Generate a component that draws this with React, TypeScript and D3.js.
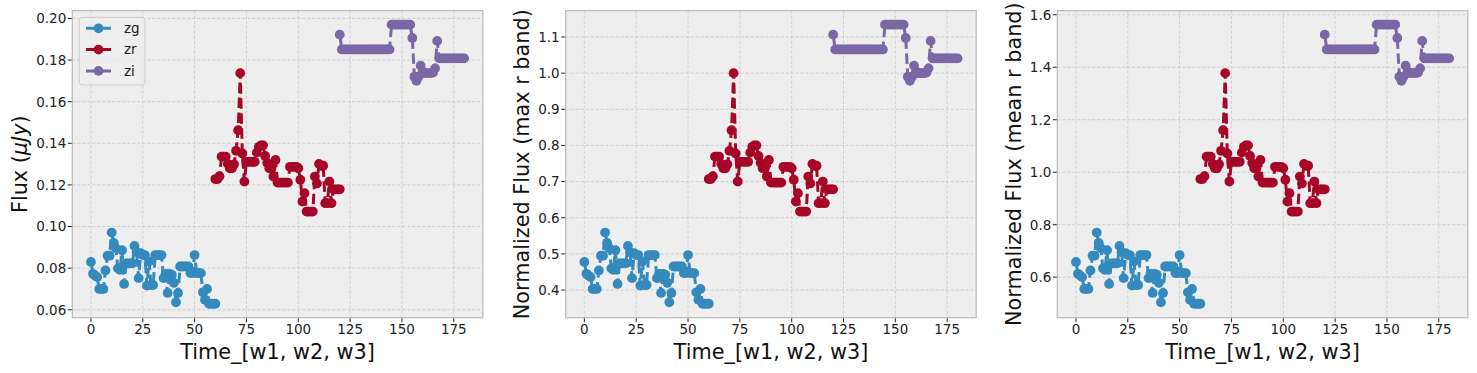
import React, { useEffect, useRef } from "react";
import * as d3 from "d3";

// flux per band (µJy), one value per time step
const zg = [
  0.0830, 0.0773, 0.0764, 0.0757, 0.0700, 0.0700, 0.0700, 0.0789, 0.0860, 0.0860,
  0.0971, 0.0921, 0.0896, 0.0799, 0.0792, 0.0886, 0.0724, 0.0823, 0.0823, 0.0823,
  0.0823, 0.0907, 0.0877, 0.0752, 0.0872, 0.0863, 0.0863, 0.0716, 0.0832, 0.0719,
  0.0719, 0.0863, 0.0863, 0.0863, 0.0863, 0.0752, 0.0773, 0.0681, 0.0773, 0.0768,
  0.0730, 0.0636, 0.0681, 0.0808, 0.0808, 0.0808, 0.0808, 0.0808, 0.0776, 0.0776,
  0.0863, 0.0776, 0.0776, 0.0776, 0.0684, 0.0648, 0.0700, 0.0629, 0.0629, 0.0629,
  0.0629,
];
const zr = [
  0.1228, 0.1228, 0.1242, 0.1336, 0.1336, 0.1336, 0.1301, 0.1280, 0.1280, 0.1299,
  0.1364, 0.1463, 0.1737, 0.1351, 0.1216, 0.1311, 0.1311, 0.1311, 0.1311, 0.1311,
  0.1355, 0.1383, 0.1390, 0.1390, 0.1339, 0.1306, 0.1280, 0.1280, 0.1240, 0.1320,
  0.1211, 0.1211, 0.1211, 0.1211, 0.1211, 0.1211, 0.1287, 0.1287, 0.1287, 0.1287,
  0.1280, 0.1225, 0.1120, 0.1160, 0.1072, 0.1072, 0.1072, 0.1072, 0.1240, 0.1207,
  0.1301, 0.1292, 0.1292, 0.1112, 0.1112, 0.1216, 0.1112, 0.1179, 0.1179, 0.1179,
  0.1179,
];
const zi = [
  0.1922, 0.1851, 0.1851, 0.1851, 0.1851, 0.1851, 0.1851, 0.1851, 0.1851, 0.1851,
  0.1851, 0.1851, 0.1851, 0.1851, 0.1851, 0.1851, 0.1851, 0.1851, 0.1851, 0.1851,
  0.1851, 0.1851, 0.1851, 0.1851, 0.1851, 0.1970, 0.1970, 0.1970, 0.1970, 0.1970,
  0.1970, 0.1970, 0.1970, 0.1970, 0.1970, 0.1906, 0.1720, 0.1700, 0.1720, 0.1773,
  0.1745, 0.1737, 0.1737, 0.1737, 0.1737, 0.1740, 0.1760, 0.1892, 0.1808, 0.1808,
  0.1808, 0.1808, 0.1808, 0.1808, 0.1808, 0.1808, 0.1808, 0.1808, 0.1808, 0.1808,
  0.1808,
];

const bandNames = ["zg", "zr", "zi"];
const bandStart = [0, 60, 120];
const bandColors = ["#348ABD", "#A60628", "#7A68A6"];

const timeTicks = [0, 25, 50, 75, 100, 125, 150, 175];
const fluxTicks = [0.06, 0.08, 0.1, 0.12, 0.14, 0.16, 0.18, 0.2];
const maxTicks = [0.4, 0.5, 0.6, 0.7, 0.8, 0.9, 1.0, 1.1];
const meanTicks = [0.6, 0.8, 1.0, 1.2, 1.4, 1.6];
const xLabel = "Time_[w1, w2, w3]";

const W = 1477;
const H = 373;
const panelLeft = [72.3, 565.7, 1057.3];
const panelWidth = 410.5;
const top = 10.7;
const bottom = 317.7;
const font = "DejaVu Sans, sans-serif";
const markerR = 4.9;
const lineW = 3;
const dash = "10.5,4.5";

export default function App() {
  const ref = useRef<SVGSVGElement>(null);

  useEffect(() => {
    const svg = d3.select(ref.current);
    svg.selectAll("*").remove();

    const maxR = d3.max(zr) as number;
    const meanR = d3.mean(zr) as number;

    const panels = [
      { scale: 1, ticks: fluxTicks, fmt: d3.format(".2f"), labelX: 26.5, label: null },
      { scale: 1 / maxR, ticks: maxTicks, fmt: d3.format(".1f"), labelX: 529, label: "Normalized Flux (max r band)" },
      { scale: 1 / meanR, ticks: meanTicks, fmt: d3.format(".1f"), labelX: 1020.5, label: "Normalized Flux (mean r band)" },
    ];

    const tMax = bandStart[2] + zi.length - 1;
    const tPad = tMax * 0.05;

    panels.forEach((p, k) => {
      const left = panelLeft[k];
      const right = left + panelWidth;
      const series = [zg, zr, zi].map((vals, b) =>
        vals.map((v, i) => ({ t: bandStart[b] + i, v: v * p.scale }))
      );
      const [lo, hi] = d3.extent(series.flat(), (d) => d.v) as [number, number];
      const pad = (hi - lo) * 0.05;

      const x = d3.scaleLinear().domain([-tPad, tMax + tPad]).range([left, right]);
      const y = d3.scaleLinear().domain([lo - pad, hi + pad]).range([bottom, top]);

      const g = svg.append("g");
      g.append("rect")
        .attr("x", left).attr("y", top)
        .attr("width", panelWidth).attr("height", bottom - top)
        .attr("fill", "#eeeeee");

      // grid
      g.selectAll(".gx").data(timeTicks).enter().append("line")
        .attr("x1", (d) => x(d)).attr("x2", (d) => x(d))
        .attr("y1", top).attr("y2", bottom)
        .attr("stroke", "#b8b8b8").attr("stroke-width", 0.6).attr("stroke-dasharray", "3,2");
      g.selectAll(".gy").data(p.ticks).enter().append("line")
        .attr("x1", left).attr("x2", right)
        .attr("y1", (d) => y(d)).attr("y2", (d) => y(d))
        .attr("stroke", "#b8b8b8").attr("stroke-width", 0.6).attr("stroke-dasharray", "3,2");

      // ticks + labels
      g.selectAll(".tx").data(timeTicks).enter().append("line")
        .attr("x1", (d) => x(d)).attr("x2", (d) => x(d))
        .attr("y1", bottom).attr("y2", bottom + 4.5)
        .attr("stroke", "#222").attr("stroke-width", 1);
      g.selectAll(".lx").data(timeTicks).enter().append("text")
        .attr("x", (d) => x(d)).attr("y", 333.5)
        .attr("text-anchor", "middle")
        .attr("font-family", font).attr("font-size", 13.5).attr("fill", "#222")
        .text((d) => String(d));
      g.selectAll(".ty").data(p.ticks).enter().append("line")
        .attr("x1", left - 4.5).attr("x2", left)
        .attr("y1", (d) => y(d)).attr("y2", (d) => y(d))
        .attr("stroke", "#222").attr("stroke-width", 1);
      g.selectAll(".ly").data(p.ticks).enter().append("text")
        .attr("x", left - 6).attr("y", (d) => y(d)).attr("dy", "0.36em")
        .attr("text-anchor", "end")
        .attr("font-family", font).attr("font-size", 13.5).attr("fill", "#222")
        .text((d) => p.fmt(d));

      // series: dashed line, then markers
      const line = d3.line<{ t: number; v: number }>().x((d) => x(d.t)).y((d) => y(d.v));
      series.forEach((s, b) => {
        g.append("path")
          .datum(s)
          .attr("d", line)
          .attr("fill", "none")
          .attr("stroke", bandColors[b])
          .attr("stroke-width", lineW)
          .attr("stroke-dasharray", dash);
        g.selectAll(null).data(s).enter().append("circle")
          .attr("cx", (d) => x(d.t)).attr("cy", (d) => y(d.v))
          .attr("r", markerR)
          .attr("fill", bandColors[b]);
      });

      g.append("rect")
        .attr("x", left).attr("y", top)
        .attr("width", panelWidth).attr("height", bottom - top)
        .attr("fill", "none").attr("stroke", "#bcbcbc").attr("stroke-width", 1.3);

      // axis titles
      g.append("text")
        .attr("x", (left + right) / 2).attr("y", 358.5)
        .attr("text-anchor", "middle")
        .attr("font-family", font).attr("font-size", 20.8).attr("fill", "#111")
        .text(xLabel);

      const yl = g.append("text")
        .attr("transform", `translate(${p.labelX},${(top + bottom) / 2}) rotate(-90)`)
        .attr("text-anchor", "middle")
        .attr("font-family", font).attr("font-size", 20.8).attr("fill", "#111");
      if (p.label) {
        yl.text(p.label);
      } else {
        yl.append("tspan").text("Flux (");
        yl.append("tspan").attr("font-style", "italic").text("μJy");
        yl.append("tspan").text(")");
      }

      // legend on first panel
      if (k === 0) {
        const lg = g.append("g");
        lg.append("rect")
          .attr("x", 79.3).attr("y", 17.3).attr("width", 65.7).attr("height", 67.7)
          .attr("rx", 3)
          .attr("fill", "#eeeeee").attr("fill-opacity", 0.8)
          .attr("stroke", "#cccccc").attr("stroke-width", 1);
        bandNames.forEach((name, b) => {
          const cy = 28.3 + b * 21.3;
          lg.append("line")
            .attr("x1", 86).attr("x2", 111).attr("y1", cy).attr("y2", cy)
            .attr("stroke", bandColors[b]).attr("stroke-width", lineW)
            .attr("stroke-dasharray", dash);
          lg.append("circle").attr("cx", 98.5).attr("cy", cy).attr("r", markerR).attr("fill", bandColors[b]);
          lg.append("text")
            .attr("x", 124).attr("y", cy).attr("dy", "0.36em")
            .attr("font-family", font).attr("font-size", 13.5).attr("fill", "#222")
            .text(name);
        });
      }
    });
  }, []);

  return (
    <svg
      ref={ref}
      width={W}
      height={H}
      style={{ position: "absolute", left: 0, top: 0, background: "#fff" }}
    />
  );
}
